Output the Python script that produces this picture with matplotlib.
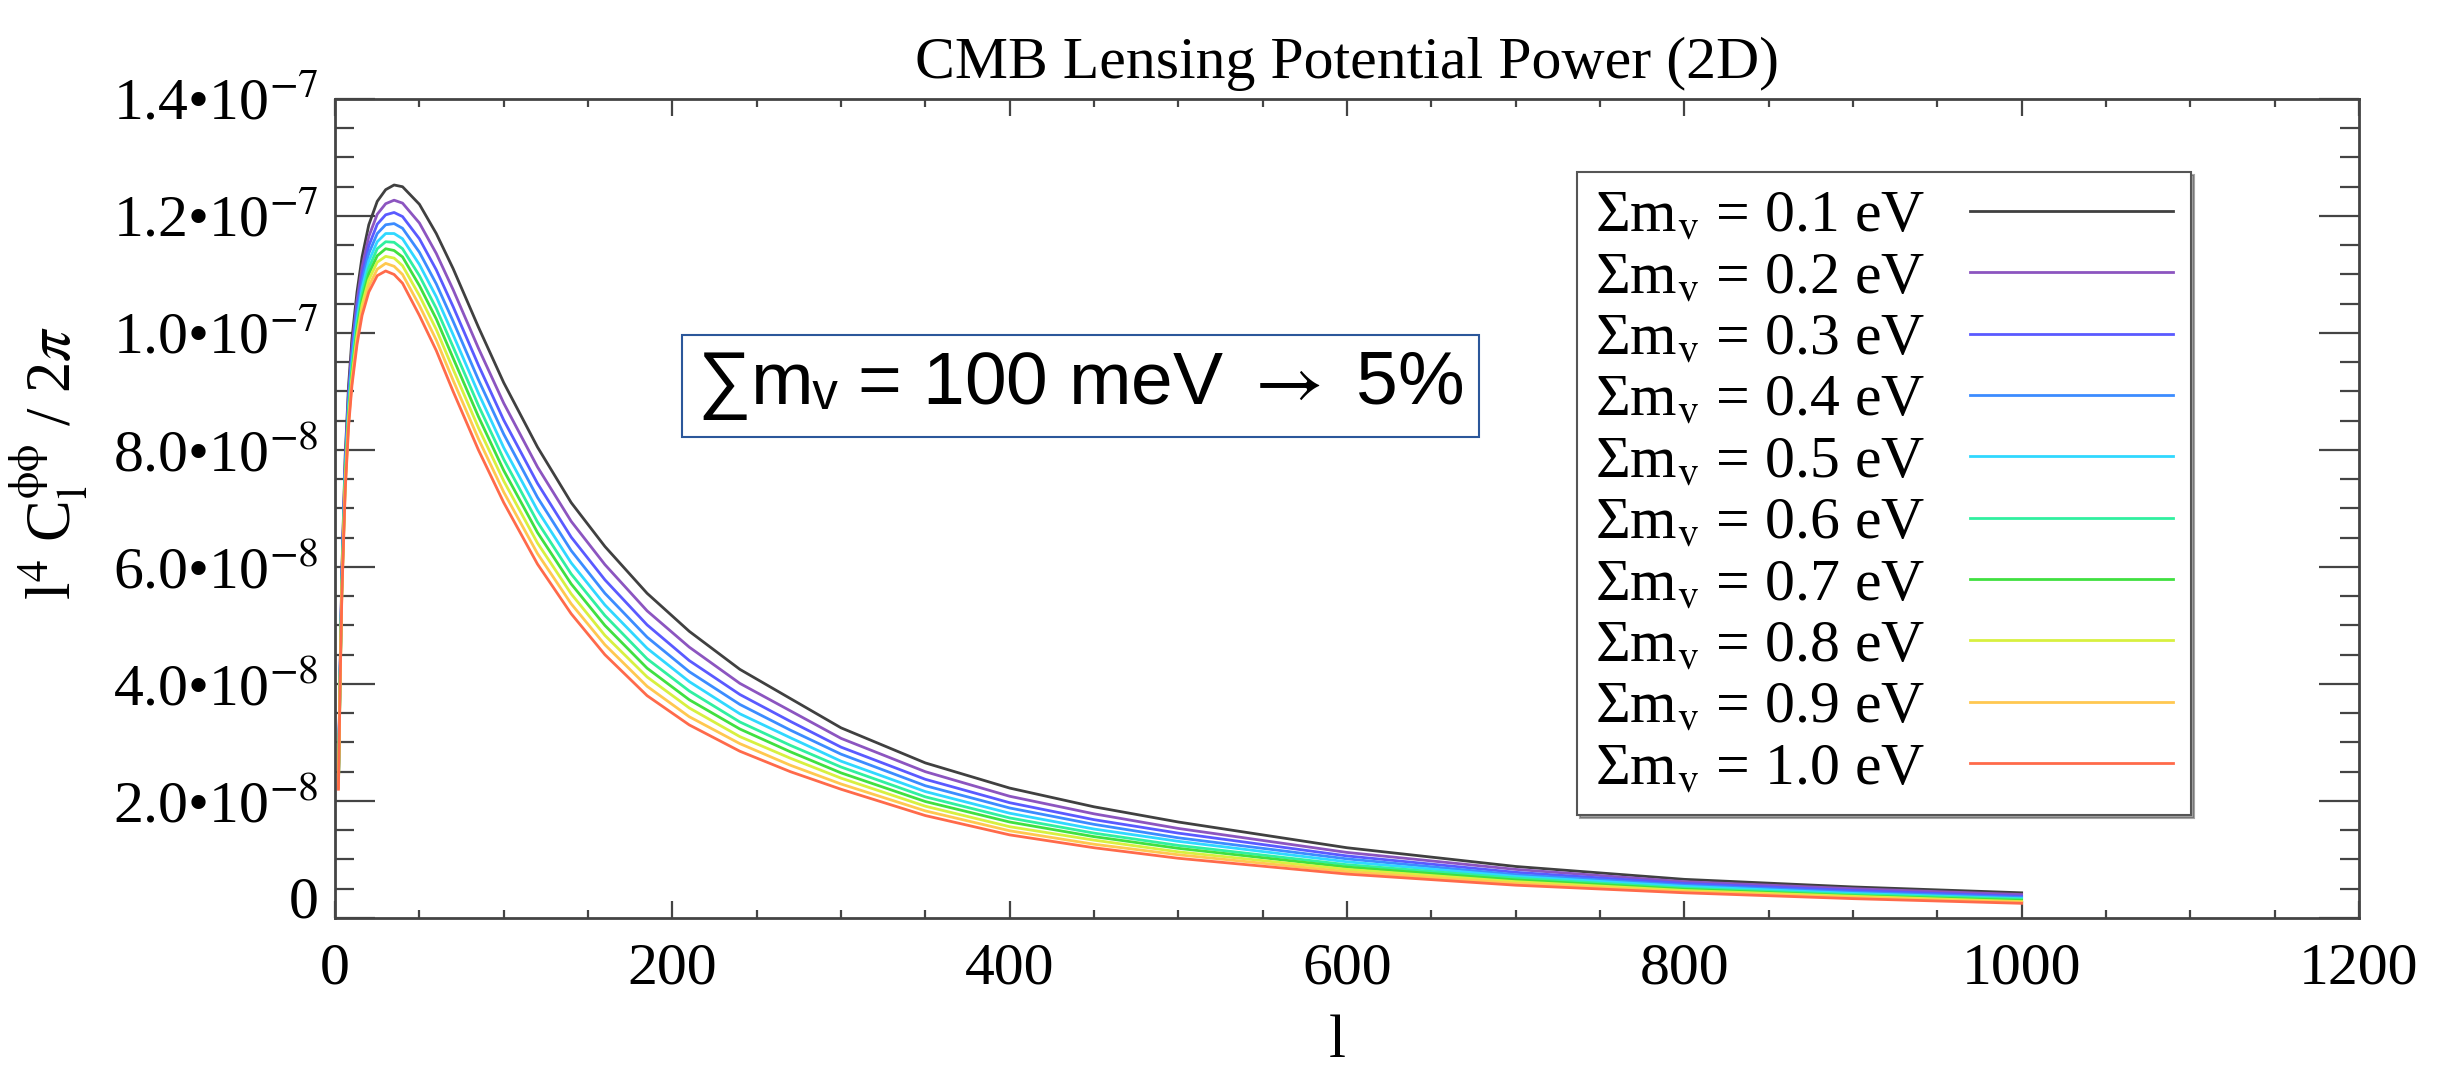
import numpy as np
import matplotlib
matplotlib.use("Agg")
from matplotlib import pyplot as plt

plt.rcParams['font.family'] = ['Liberation Serif', 'DejaVu Serif']
plt.rcParams['mathtext.fontset'] = 'stix'

# multipole l
ell = [2, 3, 4, 6, 8, 10, 13, 16, 20, 25, 30, 35, 40, 50, 60, 70, 85, 100, 120, 140,
       160, 185, 210, 240, 270, 300, 350, 400, 450, 500, 600, 700, 800, 900, 1000]

# l^4 C_l^phiphi / 2pi, in units of 1e-8
cl_01 = [2.4, 4.3, 5.9, 7.9, 9.1, 9.9, 10.7, 11.3, 11.85, 12.25, 12.45, 12.53, 12.5, 12.2, 11.7, 11.1, 10.1, 9.15,
         8.05, 7.1, 6.35, 5.55, 4.9, 4.25, 3.75, 3.25, 2.65, 2.22, 1.9, 1.64, 1.2, 0.88, 0.66, 0.53, 0.43]
cl_02 = [2.37, 4.25, 5.83, 7.80, 8.98, 9.76, 10.55, 11.13, 11.65, 12.03, 12.21, 12.27, 12.22, 11.88, 11.36, 10.74, 9.74, 8.80,
         7.71, 6.78, 6.04, 5.25, 4.63, 4.01, 3.54, 3.07, 2.50, 2.08, 1.78, 1.53, 1.12, 0.83, 0.62, 0.50, 0.40]
cl_03 = [2.34, 4.21, 5.78, 7.71, 8.88, 9.65, 10.42, 10.99, 11.49, 11.86, 12.02, 12.06, 11.99, 11.61, 11.08, 10.45, 9.45, 8.51,
         7.43, 6.51, 5.78, 5.01, 4.40, 3.82, 3.36, 2.92, 2.37, 1.97, 1.68, 1.45, 1.06, 0.78, 0.59, 0.47, 0.37]
cl_04 = [2.31, 4.17, 5.73, 7.64, 8.80, 9.56, 10.31, 10.87, 11.36, 11.70, 11.85, 11.87, 11.79, 11.38, 10.84, 10.20, 9.20, 8.27,
         7.19, 6.28, 5.55, 4.80, 4.21, 3.65, 3.21, 2.80, 2.26, 1.88, 1.60, 1.37, 1.01, 0.74, 0.56, 0.44, 0.35]
cl_05 = [2.29, 4.14, 5.68, 7.58, 8.72, 9.47, 10.21, 10.76, 11.23, 11.56, 11.70, 11.70, 11.61, 11.17, 10.62, 9.97, 8.97, 8.04,
         6.97, 6.07, 5.35, 4.61, 4.04, 3.49, 3.08, 2.68, 2.16, 1.79, 1.52, 1.31, 0.96, 0.71, 0.54, 0.42, 0.33]
cl_06 = [2.27, 4.11, 5.64, 7.52, 8.65, 9.39, 10.12, 10.66, 11.11, 11.44, 11.56, 11.55, 11.44, 10.98, 10.42, 9.76, 8.76, 7.84,
         6.77, 5.88, 5.17, 4.43, 3.88, 3.35, 2.95, 2.58, 2.07, 1.71, 1.45, 1.24, 0.91, 0.68, 0.51, 0.40, 0.32]
cl_07 = [2.25, 4.08, 5.61, 7.46, 8.59, 9.32, 10.04, 10.57, 11.01, 11.32, 11.44, 11.41, 11.30, 10.81, 10.24, 9.57, 8.57, 7.65,
         6.59, 5.71, 5.00, 4.27, 3.73, 3.23, 2.84, 2.48, 1.99, 1.64, 1.39, 1.19, 0.87, 0.65, 0.49, 0.38, 0.30]
cl_08 = [2.24, 4.05, 5.57, 7.41, 8.53, 9.24, 9.96, 10.48, 10.91, 11.21, 11.31, 11.28, 11.15, 10.64, 10.06, 9.38, 8.38, 7.47,
         6.41, 5.54, 4.83, 4.12, 3.59, 3.10, 2.73, 2.39, 1.91, 1.56, 1.33, 1.13, 0.83, 0.62, 0.47, 0.37, 0.28]
cl_09 = [2.22, 4.03, 5.54, 7.35, 8.46, 9.17, 9.88, 10.39, 10.80, 11.09, 11.19, 11.14, 11.00, 10.47, 9.88, 9.19, 8.19, 7.28,
         6.23, 5.37, 4.67, 3.96, 3.44, 2.98, 2.61, 2.29, 1.83, 1.49, 1.26, 1.08, 0.79, 0.59, 0.45, 0.35, 0.27]
cl_10 = [2.2, 4.0, 5.5, 7.3, 8.4, 9.1, 9.8, 10.3, 10.7, 10.98, 11.06, 11.0, 10.85, 10.3, 9.7, 9.0, 8.0, 7.1,
         6.05, 5.2, 4.5, 3.8, 3.3, 2.85, 2.5, 2.2, 1.75, 1.42, 1.2, 1.02, 0.75, 0.56, 0.43, 0.33, 0.25]

masses = ['0.1', '0.2', '0.3', '0.4', '0.5', '0.6', '0.7', '0.8', '0.9', '1.0']
series = [cl_01, cl_02, cl_03, cl_04, cl_05, cl_06, cl_07, cl_08, cl_09, cl_10]
colors = ['#404040', '#8c55c0', '#5a5aff', '#3c8cff', '#30d8ff',
          '#30f0a0', '#40e040', '#d8f040', '#ffc850', '#ff6a4a']

xticks = [0, 200, 400, 600, 800, 1000, 1200]
yticks = [0, 2e-8, 4e-8, 6e-8, 8e-8, 1e-7, 1.2e-7, 1.4e-7]
ylabels = ['0', '2.0•10$^{-8}$', '4.0•10$^{-8}$', '6.0•10$^{-8}$', '8.0•10$^{-8}$',
           '1.0•10$^{-7}$', '1.2•10$^{-7}$', '1.4•10$^{-7}$']

fig = plt.figure(figsize=(24.44, 10.69), dpi=100)
ax = fig.add_axes([0.1371, 0.1413, 0.8281, 0.7661])

for vals, m, c in zip(series, masses, colors):
    ax.plot(ell, np.array(vals) * 1e-8, color=c, lw=2.0,
            label="Σm$_{\\rm v}$ = " + m + " eV")

ax.set_xlim(0, 1200)
ax.set_ylim(0, 1.4e-7)
ax.set_xticks(xticks, [str(t) for t in xticks], fontsize=43)
ax.set_xticks(np.arange(0, 1201, 50), minor=True)
ax.set_yticks(yticks, ylabels, fontsize=43)
ax.set_yticks(np.arange(0, 1.41e-7, 0.5e-8), minor=True)

ax.tick_params(which='both', direction='in', top=True, right=True,
               color='#444444', labelcolor='black', width=1.6)
ax.tick_params(axis='y', which='major', length=29, pad=12)
ax.tick_params(axis='y', which='minor', length=14)
ax.tick_params(axis='x', which='major', length=12, pad=18)
ax.tick_params(axis='x', which='minor', length=6)
for sp in ax.spines.values():
    sp.set_color('#444444')
    sp.set_linewidth(2)

# the 0 label sits on the axis in the original
ax.yaxis.get_major_ticks()[0].label1.set_va('baseline')

ax.set_title("CMB Lensing Potential Power (2D)", fontsize=43, pad=15)
ax.set_xlabel("l", fontsize=44)
ax.xaxis.set_label_coords(0.495, -0.118)
ax.set_ylabel(r"l$^4$ C$_\mathrm{l}^{\mathrm{\phi\phi}}$ / 2$\pi$", fontsize=45)
ax.yaxis.set_label_coords(-0.121, 0.555)

leg = ax.legend(loc='upper left', bbox_to_anchor=(0.6453, 0.8391),
                bbox_transform=fig.transFigure, borderaxespad=0,
                markerfirst=False, fontsize=43, fancybox=False, shadow=True,
                labelspacing=0.11, handlelength=3.4, handletextpad=0.75,
                borderpad=0.3)
leg.get_frame().set_edgecolor('#555555')
leg.get_frame().set_linewidth(1.5)

fig.text(0.4421, 0.6389, "∑mᵥ = 100 meV $\\rightarrow$ 5%", family=['Liberation Sans', 'DejaVu Sans'],
         fontsize=54, ha='center', va='center',
         bbox=dict(boxstyle='square,pad=0.2', fc='white', ec='#2b579a', lw=1.5))

fig.savefig("out.png", dpi=100)
